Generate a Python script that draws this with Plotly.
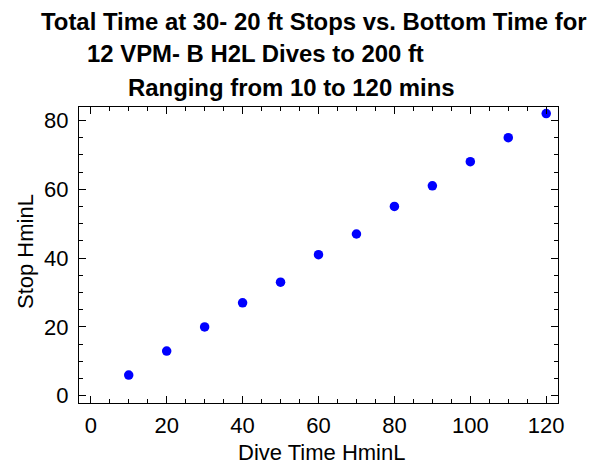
import plotly.graph_objects as go

dive_time = [10, 20, 30, 40, 50, 60, 70, 80, 90, 100, 110, 120]
stop_time = [6, 13, 20, 27, 33, 41, 47, 55, 61, 68, 75, 82]

title_lines = [
    "Total Time at 30- 20 ft Stops vs. Bottom Time for",
    "12 VPM- B H2L Dives to 200 ft",
    "Ranging from 10 to 120 mins",
]
x_title = "Dive Time HminL"
y_title = "Stop HminL"

# page body adds an 8px margin, so the figure is drawn 8px smaller
W, H = 592, 458
L, R, T, B = 71, 42, 99, 63
pw, ph = W - L - R, H - T - B

title_px = [(305.5, 13.5), (247.5, 45.5), (283, 80)]

font = "Liberation Sans, Arial, Helvetica, sans-serif"


def px_to_paper(xx, yy):
    return (xx - L) / pw, 1 - (yy - T) / ph


fig = go.Figure()
fig.add_trace(go.Scatter(
    x=dive_time, y=stop_time, mode="markers",
    marker=dict(color="#0000FF", size=9.5, line=dict(width=0)),
    showlegend=False,
))

for t, (xx, yy) in zip(title_lines, title_px):
    px, py = px_to_paper(xx, yy)
    fig.add_annotation(
        text="<b>%s</b>" % t, x=px, y=py, xref="paper", yref="paper",
        showarrow=False, font=dict(family=font, size=23.9, color="black"),
        xanchor="center", yanchor="middle", borderpad=0,
    )

px, py = px_to_paper(313, 444.5)
fig.add_annotation(text=x_title, x=px, y=py, xref="paper", yref="paper",
                   showarrow=False, font=dict(family=font, size=22, color="black"),
                   xanchor="center", yanchor="middle", borderpad=0)
px, py = px_to_paper(17.5, 243.5)
fig.add_annotation(text=y_title, x=px, y=py, xref="paper", yref="paper", textangle=-90,
                   showarrow=False, font=dict(family=font, size=22, color="black"),
                   xanchor="center", yanchor="middle", borderpad=0)

axis_common = dict(
    showline=True, linecolor="black", linewidth=1, mirror="allticks",
    ticks="inside", ticklen=7, tickwidth=1, tickcolor="black",
    showgrid=False, zeroline=False, automargin=False,
    tickfont=dict(family=font, size=22, color="black"),
    minor=dict(ticks="inside", ticklen=4, tickwidth=1, tickcolor="black", dtick=5, showgrid=False),
)
fig.update_xaxes(range=[-3.1, 123.1], dtick=20, tick0=0, ticklabelstandoff=3, **axis_common)
fig.update_yaxes(range=[-2.1, 83.9], dtick=20, tick0=0, ticklabelstandoff=5, **axis_common)
fig.update_layout(
    template="none",
    width=W, height=H, margin=dict(l=L, r=R, t=T, b=B),
    paper_bgcolor="white", plot_bgcolor="white",
)
fig.write_html("out.html")
